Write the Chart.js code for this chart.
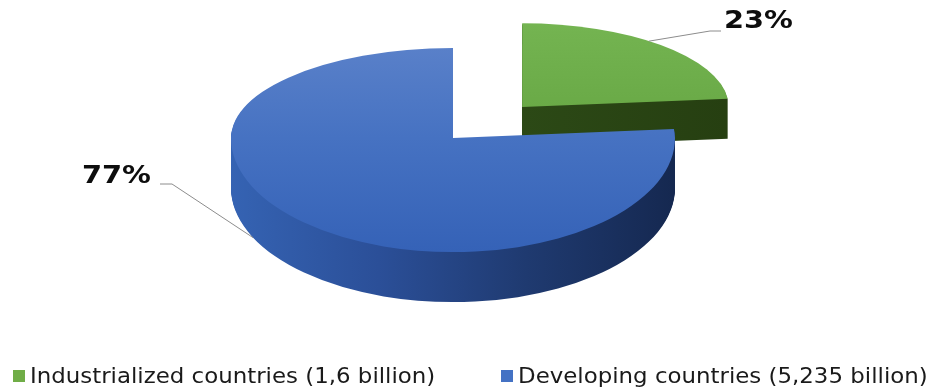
<!DOCTYPE html>
<html>
<head>
<meta charset="utf-8">
<title>World population</title>
<script src="https://cdn.jsdelivr.net/npm/chart.js@4/dist/chart.umd.min.js"></script>
<style>
  html, body { margin: 0; padding: 0; background: #fff; }
  canvas { display: block; }
</style>
</head>
<body>
<canvas id="popChart" width="931" height="390"></canvas>
<script>
/* population in billions */
const categories = ['Industrialized countries', 'Developing countries'];
const population = [1.6, 5.235];
const sliceColors = ['#70ad47', '#4472c4'];

/* text helpers */
const legendLabels = categories.map(function (c, i) {
  return c + ' (' + String(population[i]).replace('.', ',') + ' billion)';
});
const total = population.reduce(function (a, b) { return a + b; }, 0);
const percentLabels = population.map(function (v) {
  return Math.round(v / total * 100) + '%';
});

/* arc translation that chart.js applies for options.offset */
function shiftOf(el) {
  const off = (el.options.offset || 0) / 4;
  const mid = (el.startAngle + el.endAngle) / 2;
  return { x: Math.cos(mid) * off, y: Math.sin(mid) * off };
}

/* slices pushed towards the back get a little smaller */
function farScale(t, opts) {
  const ty = t.y * (t.y < 0 ? opts.tiltUp : opts.tiltDown);
  return 1 + opts.perspective * ty;
}

function paintLayer(chart, el, t, f, d, fill, opts) {
  const ctx = chart.ctx;
  const face = Object.assign(Object.create(Object.getPrototypeOf(el)), el, {
    options: Object.assign({}, el.options, { backgroundColor: fill, borderWidth: 0 })
  });
  const line = Math.round(el.y) + d;
  // back half and front half get different tilt, a cheap perspective
  [[opts.tiltUp, -2000, line], [opts.tiltDown, line, 4000]].forEach(function (h) {
    ctx.save();
    ctx.beginPath();
    ctx.rect(0, h[1], chart.width, h[2] - h[1]);
    ctx.clip();
    ctx.translate(el.x, line);
    ctx.scale(1, h[0]);
    ctx.translate((1 - f) * t.x, (1 - f) * t.y);
    ctx.scale(f, f);
    ctx.translate(-el.x, -el.y);
    face.draw(ctx);
    ctx.restore();
  });
}

function drawSlice(chart, el, i, opts) {
  const ctx = chart.ctx;
  const t = shiftOf(el);
  const f = farScale(t, opts);
  const depth = Math.round(opts.depth * f * f * f);
  const r = el.outerRadius;

  const side = ctx.createLinearGradient(el.x - r, 0, el.x + r, 0);
  opts.sideColors[i].forEach(function (c, k, a) { side.addColorStop(k / (a.length - 1), c); });
  const top = ctx.createLinearGradient(0, el.y - r, 0, el.y + r);
  opts.topColors[i].forEach(function (c, k, a) { top.addColorStop(k / (a.length - 1), c); });

  for (let d = depth; d > 0; d--) {
    paintLayer(chart, el, t, f, d, side, opts);
  }
  paintLayer(chart, el, t, f, 0, top, opts);
}

/* point on a slice rim, frac along its arc, drop = share of the side height */
function rimPoint(el, frac, drop, opts) {
  const t = shiftOf(el);
  const f = farScale(t, opts);
  const a = el.startAngle + frac * (el.endAngle - el.startAngle);
  const ux = t.x + f * Math.cos(a) * el.outerRadius;
  const uy = t.y + f * Math.sin(a) * el.outerRadius;
  const sy = uy < 0 ? opts.tiltUp : opts.tiltDown;
  return { x: el.x + ux, y: el.y + uy * sy + drop * opts.depth * f * f * f };
}

const pie3d = {
  id: 'pie3d',
  beforeDatasetsDraw: function (chart, args, opts) {
    const meta = chart.getDatasetMeta(0);
    // far slices first
    const order = meta.data.map(function (el, i) { return i; });
    order.sort(function (a, b) { return shiftOf(meta.data[a]).y - shiftOf(meta.data[b]).y; });
    order.forEach(function (i) { drawSlice(chart, meta.data[i], i, opts); });
    return false;
  },
  afterDraw: function (chart, args, opts) {
    const ctx = chart.ctx;
    const meta = chart.getDatasetMeta(0);

    // percentage callouts
    opts.callouts.forEach(function (c, i) {
      const p = rimPoint(meta.data[i], c.at, c.drop, opts);
      ctx.save();
      ctx.strokeStyle = '#8c8c8c';
      ctx.lineWidth = 1;
      ctx.beginPath();
      ctx.moveTo(p.x, p.y);
      ctx.lineTo(c.elbow[0], c.elbow[1]);
      ctx.lineTo(c.tail[0], c.tail[1]);
      ctx.stroke();
      ctx.translate(c.text[0], c.text[1]);
      ctx.scale(1.2, 1);
      ctx.fillStyle = '#0d0d0d';
      ctx.font = 'bold 24px "DejaVu Sans", Verdana, sans-serif';
      ctx.textBaseline = 'alphabetic';
      ctx.fillText(percentLabels[i], 0, 0);
      ctx.restore();
    });

    // legend row
    legendLabels.forEach(function (txt, i) {
      const x = opts.legendX[i];
      ctx.save();
      ctx.fillStyle = sliceColors[i];
      ctx.fillRect(x, 370, 12, 12);
      ctx.translate(x + 17, 383);
      ctx.scale(1.09, 1);
      ctx.fillStyle = '#1a1a1a';
      ctx.font = '21px "DejaVu Sans", Verdana, sans-serif';
      ctx.fillText(txt, 0, 0);
      ctx.restore();
    });
  }
};

const chart = new Chart(document.getElementById('popChart'), {
  type: 'pie',
  data: {
    labels: legendLabels,
    datasets: [{
      data: population,
      backgroundColor: sliceColors,
      borderWidth: 0,
      offset: [412, 0]
    }]
  },
  options: {
    responsive: false,
    animation: false,
    events: [],
    radius: 222,
    cutout: '0%',
    layout: { padding: { left: 0, right: 25, top: 0, bottom: 114 } },
    plugins: {
      legend: { display: false },
      tooltip: { enabled: false },
      pie3d: {
        tiltUp: 0.405,
        tiltDown: 0.514,
        depth: 50,
        perspective: 0.0023,
        topColors: [['#74b451', '#6aaa47', '#5f9c3c'], ['#5980c9', '#4672c2', '#3562b7']],
        sideColors: [['#34531b', '#2c4916', '#263f11'], ['#3563b3', '#2b4f98', '#1f3a70', '#152850']],
        callouts: [
          { at: 0.45, drop: 0, elbow: [710, 31], tail: [721, 31], text: [724, 28] },
          { at: 0.58, drop: 1, elbow: [172, 184], tail: [160, 184], text: [82, 183] }
        ],
        legendX: [13, 501]
      }
    }
  },
  plugins: [pie3d]
});
</script>
</body>
</html>
